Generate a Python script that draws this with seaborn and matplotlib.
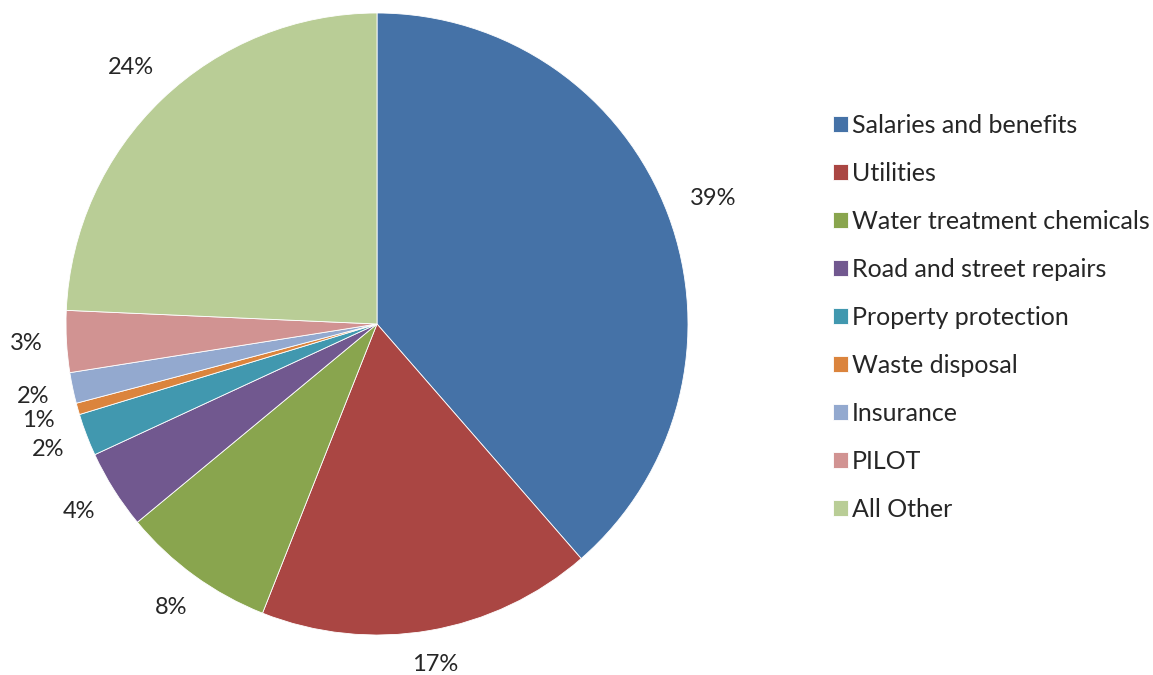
import matplotlib
matplotlib.use("Agg")
import matplotlib.pyplot as plt
import numpy as np
import seaborn as sns

# budget shares (percent)
categories = ["Salaries and benefits", "Utilities", "Water treatment chemicals",
              "Road and street repairs", "Property protection", "Waste disposal",
              "Insurance", "PILOT", "All Other"]
shares = [38.6, 17.4, 8.0, 4.1, 2.2, 0.6, 1.6, 3.2, 24.3]
hex_colors = ["#4572A7", "#AA4643", "#89A54E", "#71588F", "#4198AF",
              "#DB843D", "#93A9CF", "#D19392", "#B9CD96"]

sns.set_theme(style="white")
plt.rcParams['font.family'] = ['Lato', 'DejaVu Sans']
palette = sns.color_palette(hex_colors)

fig = plt.figure(figsize=(11.53, 6.75), dpi=100)
ax = fig.add_axes([66 / 1153, 40 / 675, 622 / 1153, 622 / 675])

wedges, texts, autotexts = ax.pie(
    shares, colors=palette, startangle=90, counterclock=False,
    autopct=lambda p: f"{p:.0f}%", pctdistance=1.14,
    wedgeprops=dict(edgecolor="white", linewidth=0.6),
    textprops=dict(fontsize=17, color="#262626"))
ax.set_xlim(-1, 1)
ax.set_ylim(-1, 1)
ax.set_aspect("equal")
ax.axis("off")

# excel-style: keep the label's near edge a fixed gap outside the rim
fig.canvas.draw()
renderer = fig.canvas.get_renderer()
px_per_unit = 622 / 2
for w, t in zip(wedges, autotexts):
    ang = np.deg2rad((w.theta1 + w.theta2) / 2)
    bb = t.get_window_extent(renderer)
    hw = bb.width / 2 / px_per_unit
    hh = bb.height / 2 / px_per_unit * 0.7
    d = 1.075 + hw * abs(np.cos(ang)) + hh * abs(np.sin(ang))
    t.set_position((d * np.cos(ang), d * np.sin(ang)))

leg = fig.legend(wedges, categories, loc="upper left",
                 bbox_to_anchor=(823 / 1153, 1 - 104 / 675),
                 frameon=False, fontsize=18, handlelength=0.6, handleheight=0.6,
                 handletextpad=0.15, labelspacing=1.0, borderaxespad=0)
for t in leg.get_texts():
    t.set_color("#262626")

fig.savefig("out.png", dpi=100)
